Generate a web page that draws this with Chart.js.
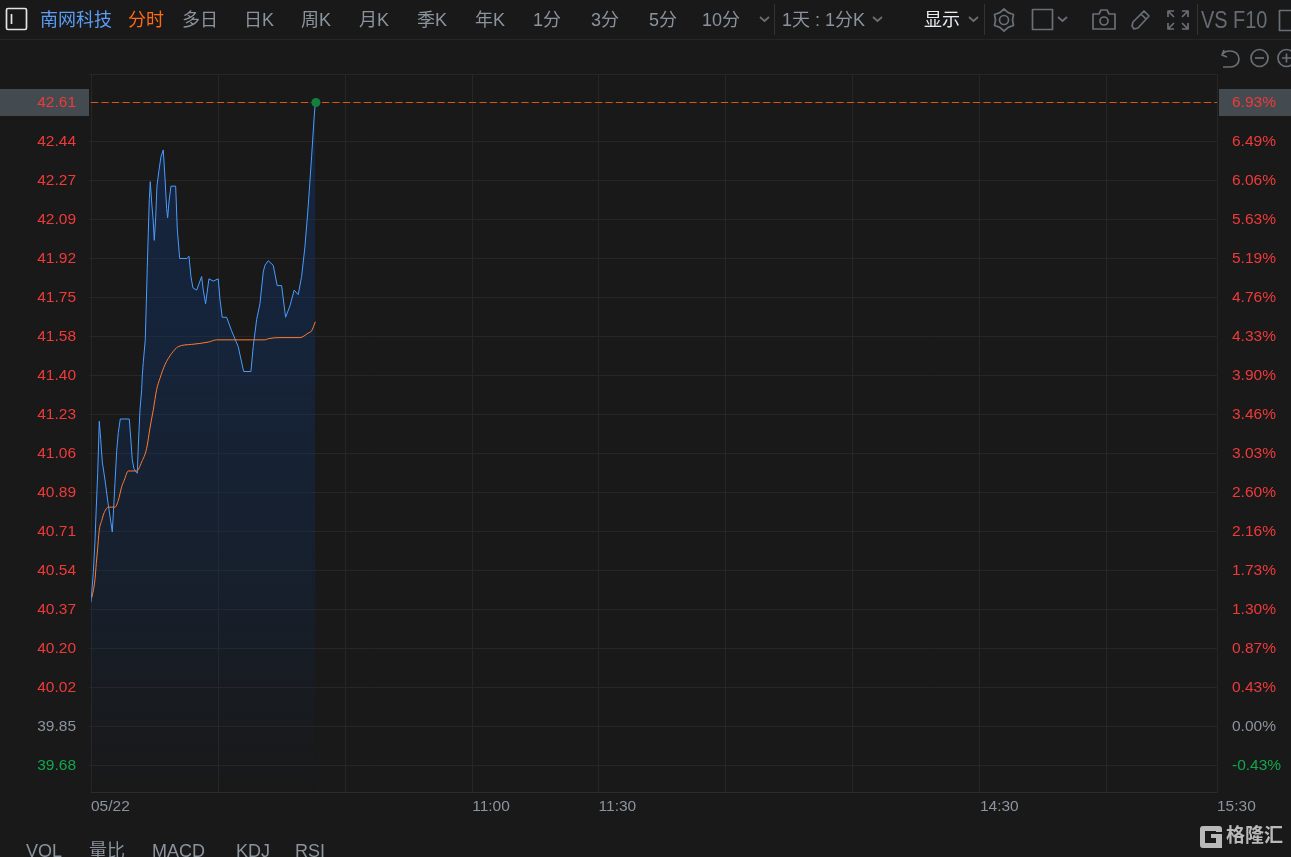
<!DOCTYPE html>
<html lang="zh">
<head>
<meta charset="utf-8">
<title>南网科技 分时</title>
<script src="https://cdn.jsdelivr.net/npm/chart.js@4"></script>
<style>
html,body{margin:0;padding:0;width:1291px;height:857px;overflow:hidden;background:#191919;}
#c{position:absolute;left:0;top:0;display:block;}
.t{position:absolute;white-space:nowrap;font-family:"Liberation Sans","Noto Sans CJK SC",sans-serif;font-size:18px;line-height:22px;color:#8b949e;}
.sep{position:absolute;width:1px;background:#333;}
svg{position:absolute;overflow:visible;fill:none;stroke:#696f76;stroke-width:1.7;stroke-linejoin:round;}
</style>
</head>
<body>
<canvas id="c" width="1291" height="857"></canvas>
<div id="ui"></div>
<script>
// ---- data ----
const priceMinutes = [0,.54,.94,1.25,1.58,1.96,2.29,2.67,3.31,4.01,4.72,5.03,5.36,5.67,6.07,6.45,6.92,9.04,9.37,9.75,10.15,10.93,11.17,11.57,11.97,12.11,12.35,12.82,13.06,13.29,13.53,13.77,14.0,14.33,14.64,14.95,15.28,15.58,16.06,16.53,17.07,17.47,17.87,18.11,18.42,18.89,20.0,20.38,20.95,22.67,23.14,23.61,24.08,24.96,26.14,26.52,27.07,27.86,28.88,30.06,30.46,31.0,32.04,33.22,34.78,36.06,37.78,38.32,39.13,39.91,40.69,41.09,41.87,43.05,43.99,45.03,45.97,46.99,48.0,48.95,49.75,50.53,51.31,52.11,52.73,53.0];
const priceValues = [40.40,40.53,40.67,40.82,40.97,41.20,41.12,41.02,40.94,40.84,40.75,40.71,40.82,40.93,41.07,41.15,41.21,41.21,41.13,41.03,40.99,40.97,41.09,41.25,41.34,41.40,41.46,41.56,41.72,41.88,42.03,42.18,42.26,42.17,42.10,42.00,42.10,42.24,42.31,42.37,42.40,42.28,42.14,42.10,42.17,42.24,42.24,42.05,41.92,41.92,41.93,41.84,41.79,41.78,41.84,41.78,41.72,41.83,41.82,41.83,41.74,41.66,41.66,41.60,41.53,41.42,41.42,41.53,41.65,41.72,41.86,41.89,41.91,41.89,41.80,41.80,41.66,41.71,41.78,41.76,41.84,41.97,42.15,42.37,42.55,42.61];
const avgMinutes = [.17,.54,.94,1.25,1.58,1.96,2.53,3.0,4.09,5.67,6.45,7.25,7.87,8.81,10.79,11.97,13.15,13.93,14.71,15.51,16.29,17.47,19.06,20.62,23.78,27.69,29.68,41.09,41.87,44.63,49.35,51.31,52.11,53.0];
const avgValues = [40.42,40.45,40.50,40.57,40.64,40.72,40.76,40.79,40.82,40.82,40.85,40.91,40.94,40.98,40.98,41.02,41.08,41.17,41.25,41.34,41.39,41.45,41.50,41.53,41.54,41.55,41.56,41.56,41.565,41.57,41.57,41.59,41.60,41.64];
const lastPrice = 42.61;
const lastMinute = 53.13;
const prevClose = 39.85;
const yTickValues = [39.678,39.850,40.023,40.195,40.367,40.540,40.712,40.885,41.057,41.229,41.402,41.574,41.747,41.919,42.091,42.264,42.436,42.610];
const priceLabels = ['39.68','39.85','40.02','40.20','40.37','40.54','40.71','40.89','41.06','41.23','41.40','41.58','41.75','41.92','42.09','42.27','42.44','42.61'];
const pctLabels = ['-0.43%','0.00%','0.43%','0.87%','1.30%','1.73%','2.16%','2.60%','3.03%','3.46%','3.90%','4.33%','4.76%','5.19%','5.63%','6.06%','6.49%','6.93%'];
const xTickMinutes = [0,30.05,60.05,90.05,119.9,149.9,179.9,210,240,266];
const xTickLabels = ['05/22','','','11:00','11:30','','','14:30','','15:30'];
const tabs = [['南网科技',40,'#5b9cf5'],['分时',128,'#ff6a13'],['多日',182],['日K',244],['周K',301],['月K',359],['季K',417],['年K',475],['1分',533],['3分',591],['5分',649],['10分',702],['1天 : 1分K',782],['显示',924,'#e8ecf0']];
const bottomTabs = [['VOL',26],['量比',89],['MACD',152],['KDJ',236],['RSI',295]];

// ---- page furniture ----
const ui = document.getElementById('ui');
function addText(s,x,y,color,extra){const d=document.createElement('div');d.className='t';d.textContent=s;d.style.left=x+'px';d.style.top=y+'px';if(color)d.style.color=color;if(extra)d.style.cssText+=extra;ui.appendChild(d);}
tabs.forEach(t=>addText(t[0],t[1],9,t[2]));
bottomTabs.forEach(t=>addText(t[0],t[1],840));
addText('VS F10',1201,8,'#666c73','font-size:24px;line-height:24px;transform-origin:left top;transform:scaleX(.83);');
addText('格隆汇',1226,825,'#b9b9b9','font-size:19px;font-weight:700;');
ui.insertAdjacentHTML('beforeend',`
<div class="sep" style="left:0;top:39px;width:1291px;height:1px;background:#262626"></div>
<div class="sep" style="left:774px;top:4px;height:31px"></div>
<div class="sep" style="left:984px;top:4px;height:31px"></div>
<div class="sep" style="left:1197px;top:4px;height:31px"></div>
<svg style="left:0;top:0" width="1291" height="857">
 <rect x="6.5" y="8.5" width="20" height="21" rx="1.5" stroke="#e4e4e4"/>
 <path d="M11.5 14v10" stroke="#e4e4e4"/>
 <path d="M760 17l4.5 4 4.5-4M873 17l4.5 4 4.5-4M969 17l4.5 4 4.5-4M1058 17l4.5 4 4.5-4"/>
 <path d="M1004 9L1008.2 12.600L1013.500 14.500L1012.500 20L1013.500 25.500L1008.200 27.400L1004 31L999.800 27.400L994.500 25.500L995.500 20L994.500 14.500L999.800 12.600Z"/><circle cx="1004" cy="20" r="4.500"/>
 <rect x="1032.5" y="9.5" width="20" height="20"/>
 <path d="M1093 14h6l2-4h6l2 4h6v15h-22z"/><circle cx="1104" cy="21" r="4"/>
 <path d="M1132 26l2 3 4-1 11-12-5-5-11 11zM1141 14l5 5"/>
 <path d="M1168 17v-6h6M1188 17v-6h-6M1168 23v6h6M1188 23v6h-6M1168 11l6 6M1188 11l-6 6M1168 29l6-6M1188 29l-6-6"/>
 <rect x="1279.5" y="10.5" width="20" height="20"/>
 <path d="M1224 50l-2 5 5 2M1223 54c1-2 4-3 7-3 5 0 9 3 9 8s-4 8-9 8h-7"/>
 <circle cx="1259.5" cy="58" r="8.5"/><path d="M1255 58h9"/>
 <circle cx="1286.5" cy="58" r="8.5"/><path d="M1282 58h9M1286.5 53.500v9"/>
 <path d="M1203 826h16q3 0 3 3v3h-6v-1h-11v12h11v-5h-5v-4h11v14h-19q-3 0-3-3v-16q0-3 3-3z" fill="#b9b9b9" stroke="none"/>
</svg>`);

// ---- chart ----
const toXY = (xs,ys) => xs.map((x,i)=>({x,y:ys[i]}));
const GRID = '#262626';
const TXT = '#8b949e';
const tickColor = v => v > prevClose + 0.001 ? '#f03a3a' : (v < prevClose - 0.001 ? '#10a84a' : TXT);
const labelFont = {family:'"Liberation Sans",sans-serif',size:15.5};

const furniture = {
  id:'furniture',
  beforeDraw(chart){
    const {ctx,chartArea:a,scales} = chart;
    const y = scales.y.getPixelForValue(lastPrice);
    ctx.save();
    ctx.fillStyle = '#434a50';
    ctx.fillRect(0,y-13.500,89,27);
    ctx.fillRect(1219,y-13.500,72,27);
    ctx.strokeStyle = GRID;
    ctx.lineWidth = 1;
    ctx.beginPath();
    ctx.moveTo(a.left-2,a.top+.5);ctx.lineTo(a.right,a.top+.5);
    ctx.stroke();
    ctx.restore();
  }
};

new Chart(document.getElementById('c'),{
  type:'line',
  plugins:[furniture],
  data:{datasets:[
    {label:'现价线',data:[{x:0,y:lastPrice},{x:266,y:lastPrice}],borderColor:'#e0570f',borderWidth:1,borderDash:[7,3.5],pointRadius:0,fill:false,order:3},
    {label:'价格',data:toXY(priceMinutes,priceValues),borderColor:'#4a9bff',borderWidth:1,pointRadius:0,tension:0,fill:'start',order:2,
     backgroundColor(ctx){
       const a = ctx.chart.chartArea; if(!a) return 'transparent';
       const g = ctx.chart.ctx.createLinearGradient(0,a.top,0,a.bottom);
       g.addColorStop(0,'rgba(18,50,100,.5)');
       g.addColorStop(.38,'rgba(18,50,100,.44)');
       g.addColorStop(.73,'rgba(18,50,100,.25)');
       g.addColorStop(.87,'rgba(18,50,100,.1)');
       g.addColorStop(1,'rgba(18,50,100,0)');
       return g;
     }},
    {label:'均价',data:toXY(avgMinutes,avgValues),borderColor:'#ff7a2e',borderWidth:1,pointRadius:0,cubicInterpolationMode:'monotone',fill:false,order:1},
    {label:'最新',data:[{x:lastMinute,y:lastPrice}],borderColor:'#12803c',backgroundColor:'#12803c',pointRadius:4.5,pointBorderWidth:0,showLine:false,order:0}
  ]},
  options:{
    responsive:false,animation:false,devicePixelRatio:1,
    layout:{padding:{top:74,left:0,right:0,bottom:0}},
    plugins:{legend:{display:false},tooltip:{enabled:false}},
    scales:{
      x:{type:'linear',min:0,max:266,
        afterBuildTicks(s){s.ticks=xTickMinutes.map(value=>({value}));},
        afterFit(s){s.height=65;},
        grid:{color:GRID,drawTicks:false},
        border:{color:'#2c2c2c'},
        ticks:{autoSkip:false,maxRotation:0,align:'start',padding:5,color:TXT,font:labelFont,
          callback:v=>xTickLabels[xTickMinutes.indexOf(v)]}
      },
      y:{type:'linear',position:'left',min:39.56,max:42.736,
        afterBuildTicks(s){s.ticks=yTickValues.map(value=>({value}));},
        afterFit(s){s.width=91;},
        grid:{color:GRID,tickLength:2,tickColor:GRID},
        border:{display:false},
        ticks:{padding:13,color:c=>tickColor(c.tick.value),font:labelFont,autoSkip:false,
          callback:v=>priceLabels[yTickValues.indexOf(v)]}
      },
      y2:{type:'linear',position:'right',min:39.56,max:42.736,
        afterBuildTicks(s){s.ticks=yTickValues.map(value=>({value}));},
        afterFit(s){s.width=74;},
        grid:{display:false,drawOnChartArea:false},
        border:{color:GRID},
        ticks:{padding:7,color:c=>tickColor(c.tick.value),font:labelFont,autoSkip:false,
          callback:v=>pctLabels[yTickValues.indexOf(v)]}
      }
    }
  }
});
</script>
</body>
</html>
